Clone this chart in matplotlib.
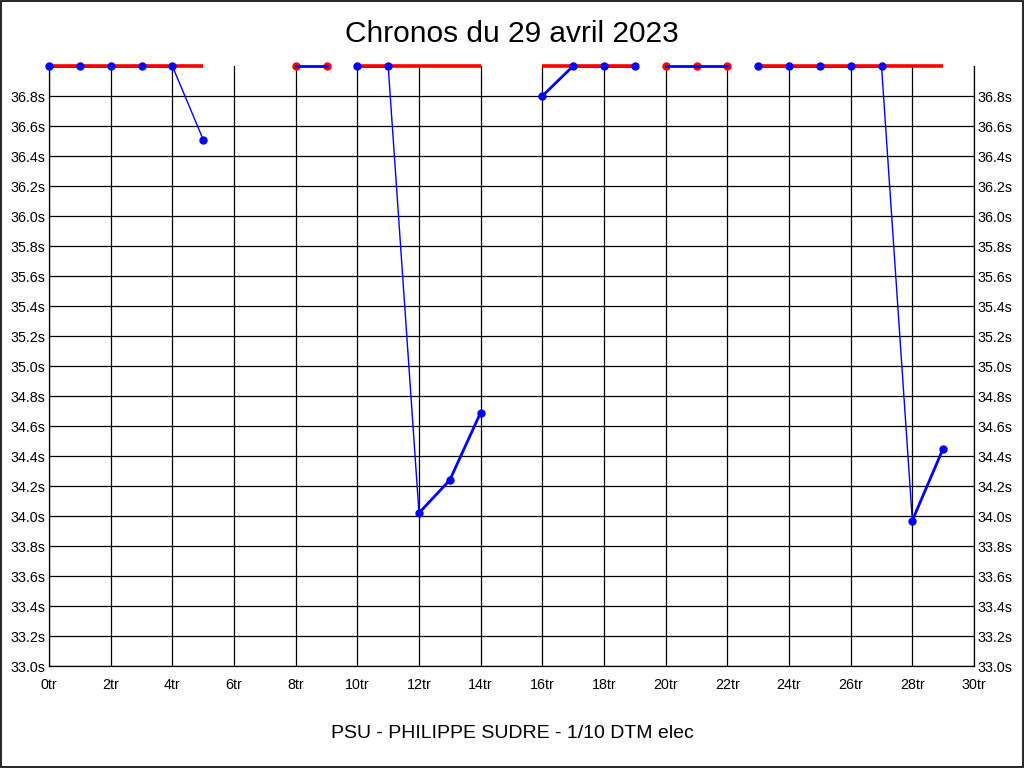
import numpy as np
import matplotlib.pyplot as plt
from matplotlib.patches import Rectangle

plt.rcParams['font.family'] = ['Liberation Sans', 'DejaVu Sans']

title = "Chronos du 29 avril 2023"
footer = "PSU - PHILIPPE SUDRE - 1/10 DTM elec"

# haut de l'échelle : les tours plus lents sont ramenés à 37.0s
y_min = 33.0
y_max = 37.0

# relais : numéros de tour et chronos (s)
laps_1 = [0, 1, 2, 3, 4, 5]
times_1 = [37.0, 37.0, 37.0, 37.0, 37.0, 36.51]
laps_2 = [8, 9]
times_2 = [37.0, 37.0]
laps_3 = [10, 11, 12, 13, 14]
times_3 = [37.0, 37.0, 34.02, 34.24, 34.69]
laps_4 = [16, 17, 18, 19]
times_4 = [36.80, 37.0, 37.0, 37.0]
laps_5 = [20, 21, 22]
times_5 = [37.0, 37.0, 37.0]
laps_6 = [23, 24, 25, 26, 27, 28, 29]
times_6 = [37.0, 37.0, 37.0, 37.0, 37.0, 33.97, 34.45]

# "a" : trait rouge en haut + points bleus, "b" : points rouges
stints = [
    (laps_1, times_1, "a"),
    (laps_2, times_2, "b"),
    (laps_3, times_3, "a"),
    (laps_4, times_4, "a"),
    (laps_5, times_5, "b"),
    (laps_6, times_6, "a"),
]

blue = "#0000ff"
red = "#ff0000"

fig = plt.figure(figsize=(10.24, 7.68), dpi=100)
ax = fig.add_axes([49 / 1024, 1 - 666 / 768, 925 / 1024, 600 / 768])

for laps, times, kind in stints:
    for i in range(len(laps) - 1):
        lw = 1 if times[i] >= y_max > times[i + 1] else 2.0
        ax.plot(laps[i:i + 2], times[i:i + 2], color=blue, lw=lw,
                zorder=3, clip_on=False)
    if kind == "a":
        ax.plot([laps[0], laps[-1]], [y_max, y_max], color=red, lw=2.6,
                zorder=4, clip_on=False, solid_capstyle="butt")
        ax.plot(laps, times, "o", color=blue, ms=5, zorder=5, clip_on=False)
    else:
        ax.plot(laps, times, "o", color=red, ms=5, zorder=2, clip_on=False)

ax.set_xlim(0, 30)
ax.set_ylim(y_min, y_max)

xt = list(range(0, 31, 2))
ax.set_xticks(xt)
ax.set_xticklabels([f"{v}tr" for v in xt])
yt = np.round(np.arange(33.0, 36.81, 0.2), 1)
ax.set_yticks(yt)
ax.set_yticklabels([f"{v:.1f}s" for v in yt])

ax.tick_params(length=0, labelsize=10.3, colors="black")
ax.tick_params(axis="x", pad=8.5)
ax.tick_params(axis="y", pad=2.5, labelright=True)
ax.grid(True, color="black", lw=0.9)
ax.set_axisbelow(True)
ax.spines["top"].set_visible(False)
for s in ["left", "right", "bottom"]:
    ax.spines[s].set_linewidth(0.9)

fig.text(0.5, 1 - 34 / 768, title, ha="center", va="center", fontsize=21.5)
fig.text(0.5, 1 - 733 / 768, footer, ha="center", va="center", fontsize=14)
fig.patches.append(Rectangle((0.0005, 0.0007), 0.999, 0.9986, transform=fig.transFigure,
                             fill=False, edgecolor="black", lw=1.2))

fig.savefig("out.png", dpi=100)
